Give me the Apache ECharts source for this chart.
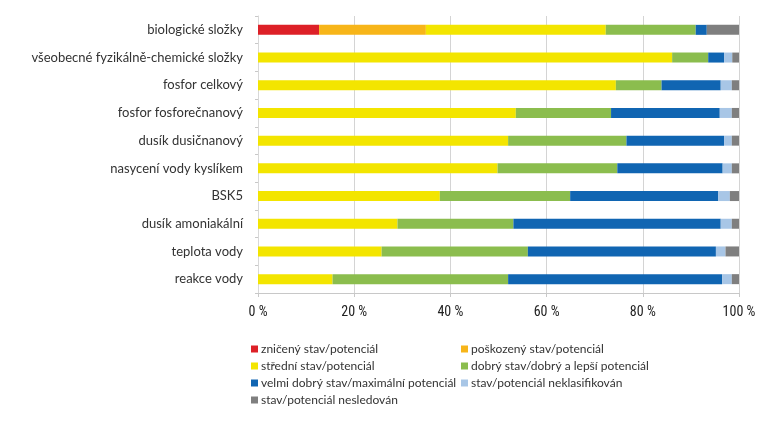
<!DOCTYPE html>
<html><head><meta charset="utf-8">
<script src="https://cdn.jsdelivr.net/npm/echarts@6/dist/echarts.min.js"></script>
<style>html,body{margin:0;padding:0;background:#fff}#c{width:761px;height:446px}</style>
</head><body><div id="c"></div>
<script>
const categories = ['biologické složky','všeobecné fyzikálně-chemické složky','fosfor celkový','fosfor fosforečnanový','dusík dusičnanový','nasycení vody kyslíkem','BSK5','dusík amoniakální','teplota vody','reakce vody'];
const seriesNames = ['zničený stav/potenciál','poškozený stav/potenciál','střední stav/potenciál','dobrý stav/dobrý a lepší potenciál','velmi dobrý stav/maximální potenciál','stav/potenciál neklasifikován','stav/potenciál nesledován'];
const znicen = [12.7,0,0,0,0,0,0,0,0,0];
const poskozen = [22.2,0,0,0,0,0,0,0,0,0];
const stredni = [37.4,86.1,74.4,53.6,52.0,49.8,37.8,29.0,25.7,15.5];
const dobry = [18.7,7.5,9.5,19.8,24.6,24.9,27.1,24.1,30.4,36.5];
const velmiDobry = [2.3,3.3,12.3,22.6,20.3,21.9,30.8,43.1,39.1,44.5];
const neklasif = [0,1.7,2.3,2.5,1.6,1.9,2.4,2.3,2.0,2.0];
const nesledovan = [6.7,1.4,1.5,1.5,1.5,1.5,1.9,1.5,2.8,1.5];
const xTicks = [0,20,40,60,80,100];
const colors = ['#DD2027','#F7B519','#F3E500','#8BBD4E','#1065B2','#A8C6E6','#7F7F7F'];
const values = [znicen,poskozen,stredni,dobry,velmiDobry,neklasif,nesledovan];

const chart = echarts.init(document.getElementById('c'));
const font = 'Lato, "Open Sans", sans-serif';
chart.setOption({
  animation:false,
  textStyle:{fontFamily:font},
  grid:{left:258,right:22,top:16,bottom:153},
  xAxis:{type:'value',min:0,max:100,interval:20,
    axisLine:{show:true,lineStyle:{color:'#c8c8c8'}},
    axisTick:{show:true,length:4,lineStyle:{color:'#c8c8c8'}},
    splitLine:{show:true,lineStyle:{color:'#d4d4d4'}},
    axisLabel:{color:'#222',fontSize:14,margin:12,fontFamily:'"Liberation Sans Narrow", "Roboto Condensed", sans-serif',
      formatter:v=>xTicks.includes(v)?v+' %':''}},
  yAxis:{type:'category',inverse:true,data:categories,
    axisLine:{show:true,lineStyle:{color:'#d8d8d8'}},
    axisTick:{show:true,length:3,lineStyle:{color:'#c8c8c8'}},
    axisLabel:{color:'#333',fontSize:13,margin:15,fontFamily:font}},
  legend:[
    {orient:'vertical',left:246,top:338,itemWidth:7,itemHeight:7,itemGap:5,icon:'rect',
     textStyle:{color:'#333',fontSize:12,fontFamily:font,padding:[0,0,0,-2]},
     data:[seriesNames[0],seriesNames[2],seriesNames[4],seriesNames[6]]},
    {orient:'vertical',left:456,top:338,itemWidth:7,itemHeight:7,itemGap:5,icon:'rect',
     textStyle:{color:'#333',fontSize:12,fontFamily:font,padding:[0,0,0,-2]},
     data:[seriesNames[1],seriesNames[3],seriesNames[5]]}
  ],
  series: seriesNames.map((n,i)=>({name:n,type:'bar',stack:'s',barWidth:10,
    itemStyle:{color:colors[i]},data:values[i]}))
});
</script></body></html>
